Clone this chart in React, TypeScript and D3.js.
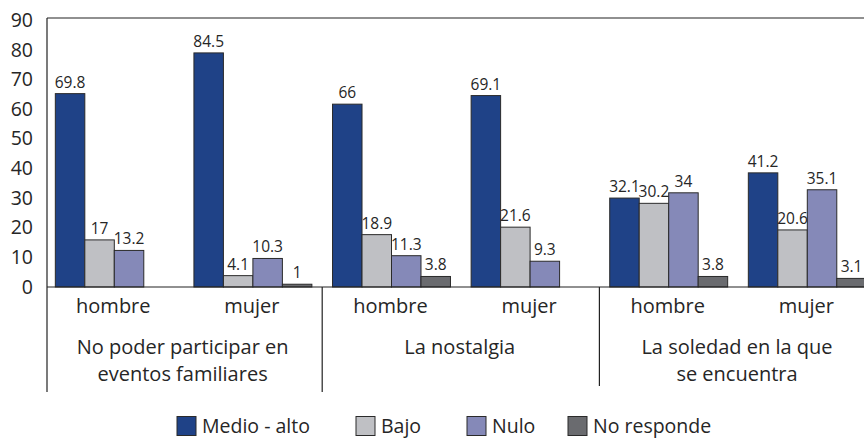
import React from "react";
import * as d3 from "d3";

const categories = ["hombre", "mujer", "hombre", "mujer", "hombre", "mujer"];
const groups = [
  ["No poder participar en", "eventos familiares"],
  ["La nostalgia"],
  ["La soledad en la que", "se encuentra"],
];
const seriesNames = ["Medio - alto", "Bajo", "Nulo", "No responde"];
const medioAlto = [69.8, 84.5, 66, 69.1, 32.1, 41.2];
const bajo = [17, 4.1, 18.9, 21.6, 30.2, 20.6];
const nulo = [13.2, 10.3, 11.3, 9.3, 34, 35.1];
const noResponde: (number | null)[] = [null, 1, 3.8, null, 3.8, 3.1];
const yTicks = [0, 10, 20, 30, 40, 50, 60, 70, 80, 90];

const colors = ["#1F4287", "#BFC0C4", "#8589B8", "#6A6B6F"];
const series = [medioAlto, bajo, nulo, noResponde];

const W = 864;
const H = 438;
const FONT = "'Open Sans', sans-serif";
const TXT = "#262626";

export default function App() {
  const baseY = 287;
  const topY = 18;
  const axisX = 47;
  const x = d3
    .scaleBand<number>()
    .domain(d3.range(categories.length))
    .range([45, 45 + 6 * 138.6])
    .paddingInner(0.149)
    .paddingOuter(0.0745);
  const xi = d3.scaleBand<number>().domain(d3.range(4)).range([0, x.bandwidth()]);
  const y = d3.scaleLinear().domain([0, 97.1]).range([baseY, topY]);
  const yAxis = d3.scaleLinear().domain([0, 90]).range([286, 19.5]);
  const step = x.step();
  const x0 = 45;

  const legendX = [177, 356, 467, 568];

  return (
    <svg
      width={W}
      height={H}
      style={{ position: "absolute", left: 0, top: 0, background: "#fff" }}
      fontFamily={FONT}
    >
      <line x1={axisX} x2={W} y1={topY} y2={topY} stroke="#222" strokeWidth={1.2} />
      {yTicks.map((t) => (
        <text
          key={t}
          x={33}
          y={yAxis(t)}
          textAnchor="end"
          dominantBaseline="central"
          fontSize={19.5}
          fill={TXT}
        >
          {t}
        </text>
      ))}
      {series.map((s, si) =>
        s.map((v, ci) =>
          v == null ? null : (
            <rect
              key={`${si}-${ci}`}
              x={(x(ci) as number) + (xi(si) as number)}
              y={y(v)}
              width={xi.bandwidth()}
              height={baseY - y(v)}
              fill={colors[si]}
              stroke="#2a2a2a"
              strokeWidth={1}
            />
          )
        )
      )}
      {series.map((s, si) =>
        s.map((v, ci) =>
          v == null ? null : (
            <text
              key={`l${si}-${ci}`}
              x={(x(ci) as number) + (xi(si) as number) + xi.bandwidth() / 2}
              y={y(v) - 6}
              textAnchor="middle"
              fontSize={15.5}
              fill={TXT}
            >
              {v}
            </text>
          )
        )
      )}
      <line x1={axisX} x2={W} y1={baseY} y2={baseY} stroke="#222" strokeWidth={1.2} />
      <line x1={axisX} x2={axisX} y1={topY} y2={392} stroke="#222" strokeWidth={1.2} />
      {[1, 2].map((g) => (
        <line
          key={g}
          x1={x0 + g * 2 * step}
          x2={x0 + g * 2 * step}
          y1={baseY}
          y2={g === 1 ? 392 : 386}
          stroke="#222"
          strokeWidth={1.2}
        />
      ))}
      {categories.map((c, i) => (
        <text
          key={`c${i}`}
          x={(x(i) as number) + x.bandwidth() / 2 - 1}
          y={305}
          textAnchor="middle"
          dominantBaseline="central"
          fontSize={20}
          fill={TXT}
        >
          {c}
        </text>
      ))}
      {groups.map((lines, g) => (
        <text
          key={`g${g}`}
          x={x0 + (g * 2 + 1) * step - 1}
          textAnchor="middle"
          fontSize={20}
          fill={TXT}
        >
          {lines.map((l, li) => (
            <tspan key={li} x={x0 + (g * 2 + 1) * step - 1} y={346 + li * 27} dominantBaseline="central">
              {l}
            </tspan>
          ))}
        </text>
      ))}
      {seriesNames.map((n, i) => (
        <g key={n}>
          <rect
            x={legendX[i]}
            y={416.5}
            width={19}
            height={19}
            fill={colors[i]}
            stroke="#2a2a2a"
            strokeWidth={1}
          />
          <text
            x={legendX[i] + 25}
            y={425.5}
            dominantBaseline="central"
            fontSize={19.5}
            fill={TXT}
          >
            {n}
          </text>
        </g>
      ))}
    </svg>
  );
}
